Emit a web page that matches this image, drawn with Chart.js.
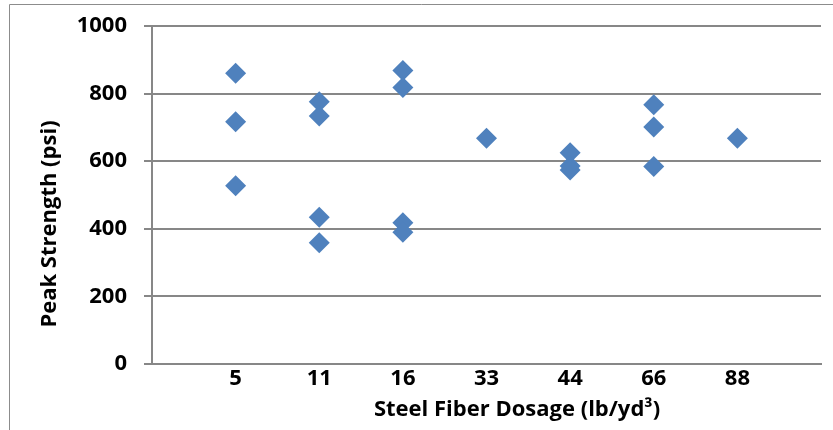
<!DOCTYPE html>
<html>
<head>
<meta charset="utf-8">
<script src="https://cdn.jsdelivr.net/npm/chart.js@4/dist/chart.umd.min.js"></script>
<style>
  html, body { margin: 0; padding: 0; background: #ffffff; }
  #wrap { width: 833px; height: 430px; position: relative; }
</style>
</head>
<body>
<div id="wrap"><canvas id="c" width="833" height="430"></canvas></div>
<script>
// Categories (steel fiber dosage, lb/yd3) shown on the x axis
const dosageLabels = ['5', '11', '16', '33', '44', '66', '88'];
// Peak strength readings (psi) for each dosage
const strength5  = [860, 717, 527];
const strength11 = [776, 734, 434, 359];
const strength16 = [868, 818, 418, 390];
const strength33 = [668];
const strength44 = [625, 586, 574];
const strength66 = [767, 701, 584];
const strength88 = [668];
// Y axis ticks
const yTicks = [0, 200, 400, 600, 800, 1000];

const xTitle = 'Steel Fiber Dosage (lb/yd\u00B3)';
const yTitle = 'Peak Strength (psi)';

const groups = [strength5, strength11, strength16, strength33, strength44, strength66, strength88];
const points = [];
groups.forEach((vals, i) => vals.forEach(v => points.push({ x: i + 1, y: v })));

const FONT = '"Open Sans", "Liberation Sans", sans-serif';
const gridColor = '#878787';

const framePlugin = {
  id: 'frame',
  beforeDraw(chart) {
    const ctx = chart.ctx;
    ctx.save();
    ctx.strokeStyle = '#8c8c8c';
    ctx.lineWidth = 1;
    ctx.beginPath();
    ctx.moveTo(9.5, 440);
    ctx.lineTo(9.5, 4.5);
    ctx.lineTo(840, 4.5);
    ctx.stroke();
    ctx.restore();
  }
};

const titlesPlugin = {
  id: 'axisTitles',
  afterDraw(chart) {
    const ctx = chart.ctx;
    ctx.save();
    ctx.fillStyle = '#000000';
    ctx.textAlign = 'center';
    ctx.textBaseline = 'middle';
    ctx.font = 'bold 22px ' + FONT;
    ctx.fillText(xTitle, 517, 410);
    ctx.translate(50, 224);
    ctx.rotate(-Math.PI / 2);
    ctx.fillText(yTitle, 0, 0);
    ctx.restore();
  }
};

new Chart(document.getElementById('c'), {
  type: 'scatter',
  data: {
    datasets: [{
      data: points,
      pointStyle: 'rectRot',
      pointRadius: 10.5,
      pointHoverRadius: 10.5,
      backgroundColor: '#4F81BD',
      borderColor: '#4F81BD',
      borderWidth: 0
    }]
  },
  options: {
    responsive: false,
    animation: false,
    events: [],
    layout: { padding: { top: 26, right: 12, left: 0, bottom: 0 } },
    plugins: { legend: { display: false }, tooltip: { enabled: false } },
    scales: {
      x: {
        type: 'linear',
        min: 0,
        max: dosageLabels.length + 1,
        afterBuildTicks(scale) {
          scale.ticks = dosageLabels.map((_, i) => ({ value: i + 1 }));
        },
        afterFit(scale) {
          scale.height = 430 - 364;
          scale.paddingLeft = 0;
          scale.paddingRight = 0;
        },
        ticks: {
          autoSkip: false,
          maxRotation: 0,
          padding: 2,
          color: '#000000',
          font: { family: FONT, size: 22, weight: 'bold' },
          callback: (v) => dosageLabels[v - 1] ?? ''
        },
        grid: { display: false, drawTicks: false },
        border: { display: true, color: gridColor, width: 2 }
      },
      y: {
        min: 0,
        max: 1000,
        afterBuildTicks(scale) {
          scale.ticks = yTicks.map(v => ({ value: v }));
        },
        afterFit(scale) {
          scale.width = 152;
          scale.paddingTop = 0;
          scale.paddingBottom = 0;
        },
        ticks: {
          padding: 17,
          color: '#000000',
          font: { family: FONT, size: 22, weight: 'bold' },
          callback: (v) => String(v)
        },
        grid: { color: gridColor, lineWidth: 2, tickLength: 8, drawTicks: true },
        border: { display: true, color: gridColor, width: 2 }
      }
    }
  },
  plugins: [framePlugin, titlesPlugin]
});
</script>
</body>
</html>
